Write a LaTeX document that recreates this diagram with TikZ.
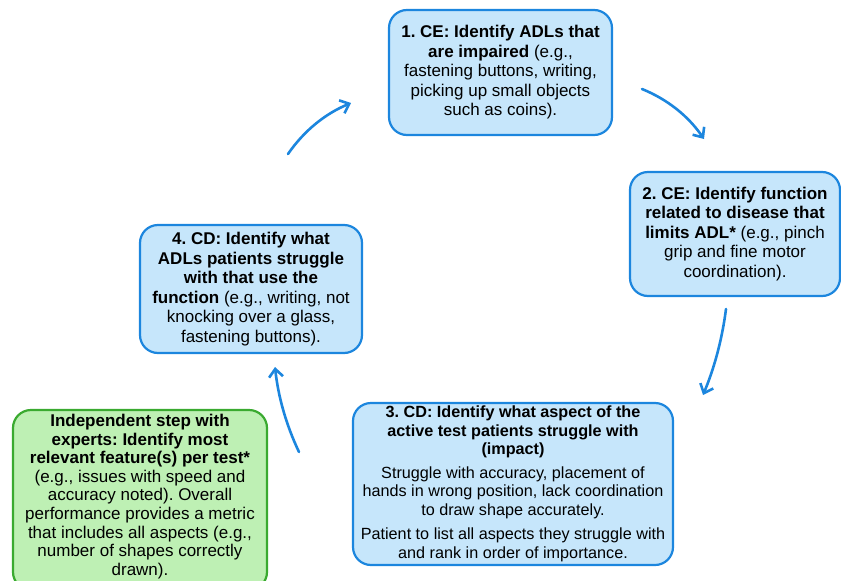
\documentclass[tikz,border=0pt]{standalone}
\usepackage{fontspec}
\setmainfont{Liberation Sans}
\usetikzlibrary{arrows.meta}
\frenchspacing
\definecolor{boxblue}{RGB}{198,230,251}
\definecolor{lineblue}{RGB}{28,134,222}
\definecolor{boxgreen}{RGB}{190,240,180}
\definecolor{linegreen}{RGB}{58,170,48}
\tikzset{
  stepbox/.style={draw=lineblue, fill=boxblue, line width=2.2pt, rounded corners=18pt,
    align=center, inner sep=0pt, font=\fontsize{17}{19.5}\selectfont},
  expertbox/.style={draw=linegreen, fill=boxgreen, line width=2.2pt, rounded corners=18pt,
    inner sep=0pt},
  experttext/.style={align=center, inner sep=0pt, font=\fontsize{17}{18.6}\selectfont},
  flow/.style={draw=lineblue, line width=2.6pt, line cap=round,
    -{Straight Barb[length=8pt,width=14pt]}}
}
\begin{document}
\begin{tikzpicture}[x=1pt,y=-1pt]
\useasboundingbox (0,0) rectangle (841,581);
\clip (0,0) rectangle (841,581);

\node[stepbox, minimum width=223pt, minimum height=125pt] (s1) at (500.5,72.5)
  {\textbf{1. CE: Identify ADLs that}\\\textbf{are impaired} (e.g.,\\fastening buttons, writing,\\picking up small objects\\such as coins).};

\node[stepbox, minimum width=210pt, minimum height=124pt] (s2) at (735,234)
  {\textbf{2. CE: Identify function}\\\textbf{related to disease that}\\\textbf{limits ADL*} (e.g., pinch\\grip and fine motor\\coordination).};

\node[stepbox, minimum width=320pt, minimum height=162pt, font=\fontsize{16.2}{18.5}\selectfont] (s3) at (513,484)
  {\textbf{3. CD: Identify what aspect of the}\\\textbf{active test patients struggle with}\\\textbf{(impact)}\\[5pt]Struggle with accuracy, placement of\\hands in wrong position, lack coordination\\to draw shape accurately.\\[6pt]Patient to list all aspects they struggle with\\and rank in order of importance.};

\node[stepbox, minimum width=222pt, minimum height=128pt] (s4) at (251,289)
  {\textbf{4. CD: Identify what}\\\textbf{ADLs patients struggle}\\\textbf{with that use the}\\\textbf{function} (e.g., writing, not\\knocking over a glass,\\fastening buttons).};

\node[expertbox, minimum width=254pt, minimum height=180pt] (ex) at (140,500) {};
\node[experttext, anchor=north] (extext) at (140,414)
  {\textbf{Independent step with}\\\textbf{experts: Identify most}\\\textbf{relevant feature(s) per test*}\\(e.g., issues with speed and\\accuracy noted). Overall\\performance provides a metric\\that includes all aspects (e.g.,\\number of shapes correctly\\drawn).};

\coordinate (a1s) at (288,154); \coordinate (a1e) at (351,103);
\coordinate (a2s) at (642,89);  \coordinate (a2e) at (704,139);
\coordinate (a3s) at (726,309); \coordinate (a3e) at (703,395);
\coordinate (a4s) at (299,452); \coordinate (a4e) at (275,367);

\draw[flow] (a1s) .. controls (304,130.8) and (325,113.8) .. (a1e);
\draw[flow] (a2s) .. controls (667.7,99.5) and (688.3,116.1) .. (a2e);
\draw[flow] (a3s) .. controls (722.2,338.7) and (714.6,367.3) .. (a3e);
\draw[flow] (a4s) .. controls (286.2,425) and (278.2,396.7) .. (a4e);
\end{tikzpicture}
\end{document}
